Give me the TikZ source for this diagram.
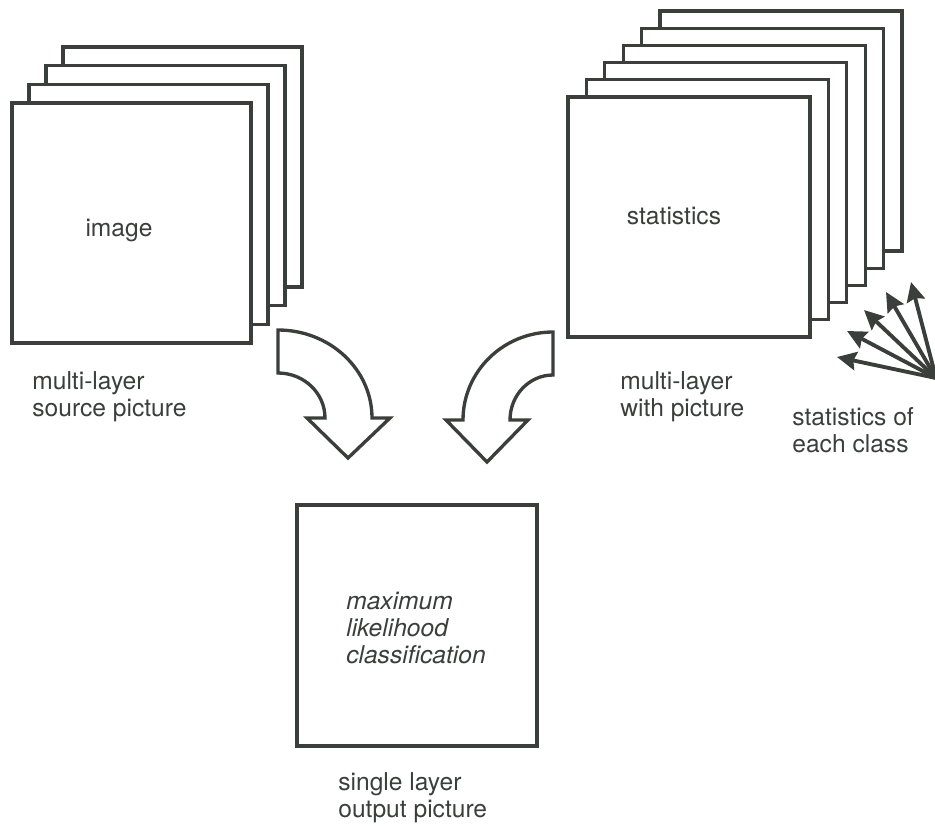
\documentclass[tikz,border=0pt]{standalone}
\usepackage{fontspec}
\setmainfont{TeX Gyre Heros}
\usepackage{tikz}
\usetikzlibrary{arrows.meta, calc}
\definecolor{ink}{RGB}{58,63,60}
\tikzstyle{sheet} = [draw=ink, line width=1.9pt, fill=white]
\tikzstyle{blockarrow} = [draw=ink, line width=1.9pt, line join=miter, fill=white]
\tikzstyle{fan} = [draw=ink, line width=2.2pt, -{Stealth[length=11pt,width=10.5pt,inset=1.5pt]}]
\tikzstyle{txt} = [text=ink, font=\fontsize{14}{15.3}\selectfont, align=left, inner sep=0pt]

\begin{document}
\begin{tikzpicture}[x=0.02cm, y=-0.02cm]
    \useasboundingbox (0,0) rectangle (935,828);
    % source layers
    \foreach \k in {3,2,1,0}
        \draw[sheet, shift={(17*\k,-18.7*\k)}] (12,103) rectangle (251,343);
    \node[txt] (image) at (119,230) {image};
    % statistics layers
    \foreach \k in {5,4,3,2,1,0}
        \draw[sheet, shift={(18.4*\k,-17.2*\k)}] (568,97) rectangle (810,337);
    \node[txt] (stats) at (674,216) {statistics};
    % output
    \draw[sheet] (297,505) rectangle (537,746);
    \node[txt, font=\fontsize{14}{15.3}\selectfont\itshape] (mlc) at (416,628) {maximum\\likelihood\\classification};

    % curved block arrows
    \draw[blockarrow] (278,330) -- (278,373) arc[start angle=-90, end angle=0, x radius=47, y radius=45]
        -- (307,418) -- (348,458) -- (390,418) -- (372,418)
        arc[start angle=0, end angle=-90, x radius=94, y radius=88] -- cycle;
    \draw[blockarrow] (553,332) -- (553,375) arc[start angle=-90, end angle=-180, x radius=43, y radius=45]
        -- (528,420) -- (487,462) -- (446,420) -- (463,420)
        arc[start angle=180, end angle=270, x radius=90, y radius=88] -- cycle;

    % class arrows
    \coordinate (hub) at (936,378);
    \foreach \n/\x/\y in {1/837/357, 2/847/331, 3/864/310, 4/886/292, 5/911/282} {
        \coordinate (tip\n) at (\x,\y);
        \draw[fan] (hub) -- (tip\n);
    }

    % labels
    \node[txt, anchor=west] (src) at (32,397) {multi-layer\\source picture};
    \node[txt, anchor=west] (with) at (620,397) {multi-layer\\with picture};
    \node[txt, anchor=west] (cls) at (792,430) {statistics of\\each class};
    \node[txt, anchor=west] (out) at (338,798) {single layer\\output picture};
\end{tikzpicture}
\end{document}
